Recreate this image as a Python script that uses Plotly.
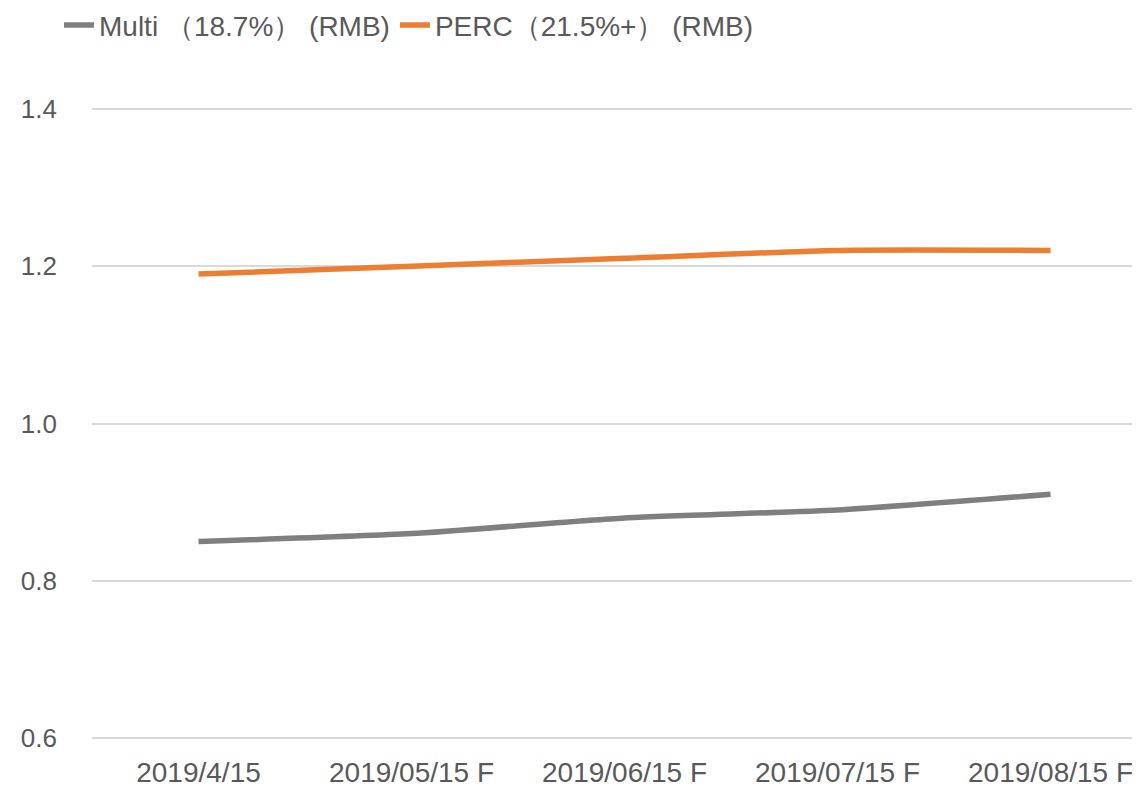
import plotly.graph_objects as go

# Price data
dates = ['2019/4/15', '2019/05/15 F', '2019/06/15 F', '2019/07/15 F', '2019/08/15 F']
multi_prices = [0.85, 0.86, 0.88, 0.89, 0.91]
perc_prices = [1.19, 1.20, 1.21, 1.22, 1.22]

font_family = 'Liberation Sans, Arial, sans-serif'

fig = go.Figure()

fig.add_trace(go.Scatter(
    x=dates, y=multi_prices,
    mode='lines',
    name='Multi （18.7%） (RMB)',
    line=dict(color='#7f7f7f', width=5.5, shape='spline', smoothing=0.6),
))

fig.add_trace(go.Scatter(
    x=dates, y=perc_prices,
    mode='lines',
    name='PERC（21.5%+） (RMB)',
    line=dict(color='#ed7d31', width=5.5, shape='spline', smoothing=0.6),
))

fig.update_layout(
    width=1140,
    height=787,
    plot_bgcolor='white',
    paper_bgcolor='white',
    font=dict(family=font_family, size=26, color='#595959'),
    # fixed margins so the legend above the plot does not push the plot down
    margin=dict(l=84, r=8, t=93, b=49, autoexpand=False),
    showlegend=True,
    legend=dict(
        orientation='h',
        x=-0.0315, xanchor='left',
        y=1.1175, yanchor='middle',
        font=dict(size=28, color='#595959'),
        itemwidth=30,
        tracegroupgap=0,
        bgcolor='rgba(0,0,0,0)',
    ),
    xaxis=dict(
        type='category',
        range=[-0.5, 4.42],
        showgrid=False,
        showline=False,
        zeroline=False,
        ticks='',
        ticklabelstandoff=7,
        tickfont=dict(size=28, color='#595959'),
    ),
    yaxis=dict(
        # padded a bit so the 0.6 and 1.4 gridlines are not on the plot edge
        range=[0.59, 1.41],
        tickvals=[0.6, 0.8, 1.0, 1.2, 1.4],
        tickformat='.1f',
        showgrid=True,
        gridcolor='#d9d9d9',
        gridwidth=2,
        zeroline=False,
        showline=False,
        ticks='',
        ticklabelstandoff=34,
        tickfont=dict(size=26, color='#595959'),
    ),
)

fig.write_html('out.html')
